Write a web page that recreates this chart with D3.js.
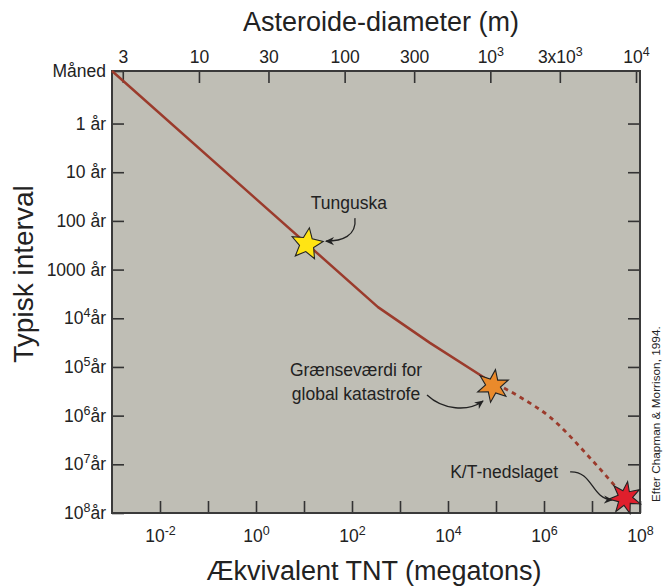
<!DOCTYPE html>
<html>
<head>
<meta charset="utf-8">
<script src="https://cdn.jsdelivr.net/npm/d3@7"></script>
<style>
    body { margin: 0; background: #fff; }
    text { font-family: "Liberation Sans", Arial, sans-serif; fill: #222; }
</style>
</head>
<body>
<div id="chart"></div>
<script>
// impact energy (megatons TNT) vs typical interval between impacts (years)
var curveEnergy = [1e-3, 348, 4200, 68000];
var curveInterval = [1 / 12, 5900, 32000, 185000];
var dashEnergy = [68000, 316000, 1.33e6, 9.1e6, 3.3e7, 4.9e7];
var dashInterval = [185000, 415000, 1.07e6, 7.4e6, 3.1e7, 4.9e7];

var eventNames = [["Tunguska"], ["Grænseværdi for", "global katastrofe"], ["K/T-nedslaget"]];
var eventEnergy = [11.5, 86600, 4.9e7];
var eventInterval = [300, 246000, 4.9e7];
var eventColors = ["#ffe414", "#ea8a2b", "#e01f2c"];
var eventPoints = [5, 6, 7];

var energyTicks = [1e-2, 1e-1, 1e0, 1e1, 1e2, 1e3, 1e4, 1e5, 1e6, 1e7, 1e8];
var energyLabels = [["10", "-2"], null, ["10", "0"], null, ["10", "2"], null, ["10", "4"], null, ["10", "6"], null, ["10", "8"]];

var intervalTicks = [1 / 12, 1, 10, 100, 1000, 1e4, 1e5, 1e6, 1e7, 1e8];
var intervalLabels = [["Måned"], ["1 år"], ["10 år"], ["100 år"], ["1000 år"],
    ["10", "4", "år"], ["10", "5", "år"], ["10", "6", "år"], ["10", "7", "år"], ["10", "8", "år"]];

var diameterTicks = [3, 10, 30, 100, 300, 1000, 3000, 10000];
var diameterLabels = [["3"], ["10"], ["30"], ["100"], ["300"], ["10", "3"], ["3x10", "3"], ["10", "4"]];

var width = 664;
var height = 588;
var plotLeft = 112, plotRight = 640, plotTop = 71, plotBottom = 513;

var svg = d3.select("#chart").append("svg")
    .attr("width", width)
    .attr("height", height);

var x = d3.scaleLog().domain([1e-3, 1e8]).range([plotLeft, plotRight]);
var y = d3.scaleLog().domain([1 / 12, 1e8]).range([plotTop, plotBottom]);
var diam = d3.scaleLog().domain([2.53, 10650]).range([plotLeft, plotRight]);

// plot background
svg.append("rect")
    .attr("x", plotLeft).attr("y", plotTop)
    .attr("width", plotRight - plotLeft).attr("height", plotBottom - plotTop)
    .attr("fill", "#bfbeb5");

function writeLabel(text, parts) {
    text.text(null);
    if (!parts) return;
    text.append("tspan").text(parts[0]);
    if (parts.length > 1) {
        text.append("tspan").attr("dy", -7).attr("font-size", 12.5).text(parts[1]);
    }
    if (parts.length > 2) {
        text.append("tspan").attr("dy", 7).text(parts[2]);
    }
}

function styleAxis(g, labels) {
    g.select(".domain").remove();
    g.attr("font-family", null).attr("font-size", 17.5).attr("color", "#333");
    g.selectAll(".tick line").attr("stroke-width", 1.6);
    g.selectAll(".tick text").attr("fill", "#222").each(function (d, i) {
        if (labels) writeLabel(d3.select(this), labels[i]);
    });
}

svg.append("g")
    .attr("transform", "translate(0," + plotBottom + ")")
    .call(d3.axisBottom(x).tickValues(energyTicks).tickSize(-12).tickPadding(17))
    .call(styleAxis, energyLabels);

svg.append("g")
    .attr("transform", "translate(" + plotLeft + ",0)")
    .call(d3.axisLeft(y).tickValues(intervalTicks).tickSize(-12).tickPadding(6))
    .call(styleAxis, intervalLabels);

svg.append("g")
    .attr("transform", "translate(" + plotRight + ",0)")
    .call(d3.axisRight(y).tickValues(intervalTicks.slice(1, -1)).tickSize(-12).tickFormat(""))
    .call(styleAxis, null);

svg.append("g")
    .attr("transform", "translate(0," + plotTop + ")")
    .call(d3.axisTop(diam).tickValues(diameterTicks).tickSize(-12).tickPadding(8))
    .call(styleAxis, diameterLabels);

// frame
svg.append("rect")
    .attr("x", plotLeft).attr("y", plotTop)
    .attr("width", plotRight - plotLeft).attr("height", plotBottom - plotTop)
    .attr("fill", "none")
    .attr("stroke", "#3a3a3a")
    .attr("stroke-width", 2);

// solid part is piecewise straight, the extrapolated part bends down
var solidLine = d3.line()
    .x(function (d) { return x(d[0]); })
    .y(function (d) { return y(d[1]); });

var dashLine = d3.line()
    .x(function (d) { return x(d[0]); })
    .y(function (d) { return y(d[1]); })
    .curve(d3.curveMonotoneX);

svg.append("path")
    .attr("d", solidLine(d3.zip(curveEnergy, curveInterval)))
    .attr("fill", "none")
    .attr("stroke", "#9b3b2c")
    .attr("stroke-width", 2.5)
    .attr("stroke-linejoin", "round");

svg.append("path")
    .attr("d", dashLine(d3.zip(dashEnergy, dashInterval)))
    .attr("fill", "none")
    .attr("stroke", "#9b3b2c")
    .attr("stroke-width", 2.8)
    .attr("stroke-dasharray", "4.5,4.5");

// arrow head
svg.append("defs").append("marker")
    .attr("id", "head")
    .attr("viewBox", "0 -5 10 10")
    .attr("refX", 9).attr("refY", 0)
    .attr("markerWidth", 9).attr("markerHeight", 9)
    .attr("markerUnits", "userSpaceOnUse")
    .attr("orient", "auto")
    .append("path")
    .attr("d", "M0,-4.5L10,0L0,4.5L3,0Z")
    .attr("fill", "#222");

// label offsets and arrow paths, relative to each star
var labelOffsets = [[42, -35], [-137, -10], [-121, -20]];
var arrowPaths = [
    "M48,-26C50,-8 35,-3 19,-3",
    "M-66,9C-50,24 -25,26 -10,15",
    "M-55,-26C-32,-27 -34,1 -13,2"
];

var star = d3.lineRadial().curve(d3.curveLinearClosed);
function starPoints(n, r1, r2) {
    var pts = [];
    for (var i = 0; i < n * 2; i++) {
        pts.push([i * Math.PI / n + 0.15, i % 2 ? r2 : r1]);
    }
    return pts;
}

eventNames.forEach(function (name, i) {
    var g = svg.append("g")
        .attr("transform", "translate(" + x(eventEnergy[i]) + "," + y(eventInterval[i]) + ")");

    g.append("path")
        .attr("d", arrowPaths[i])
        .attr("fill", "none")
        .attr("stroke", "#222")
        .attr("stroke-width", 1.3)
        .attr("marker-end", "url(#head)");

    g.append("path")
        .attr("d", star(starPoints(eventPoints[i], 16.5, 7.5)))
        .attr("fill", eventColors[i])
        .attr("stroke", "#222")
        .attr("stroke-width", 1.1)
        .attr("stroke-linejoin", "miter");

    var t = g.append("text")
        .attr("x", labelOffsets[i][0])
        .attr("y", labelOffsets[i][1])
        .attr("text-anchor", "middle")
        .attr("font-size", 17.5);
    name.forEach(function (s, k) {
        t.append("tspan")
            .attr("x", labelOffsets[i][0])
            .attr("dy", k ? 24 : 0)
            .text(s);
    });
});

// axis titles
svg.append("text")
    .attr("x", 381).attr("y", 31)
    .attr("text-anchor", "middle")
    .attr("font-size", 27)
    .text("Asteroide-diameter (m)");

svg.append("text")
    .attr("x", 374).attr("y", 580)
    .attr("text-anchor", "middle")
    .attr("font-size", 27)
    .text("Ækvivalent TNT (megatons)");

svg.append("text")
    .attr("transform", "translate(33,274) rotate(-90)")
    .attr("text-anchor", "middle")
    .attr("font-size", 28)
    .text("Typisk interval");

svg.append("text")
    .attr("transform", "translate(660,502) rotate(-90)")
    .attr("font-size", 11.8)
    .attr("fill", "#333")
    .text("Efter Chapman & Morrison, 1994.");
</script>
</body>
</html>
